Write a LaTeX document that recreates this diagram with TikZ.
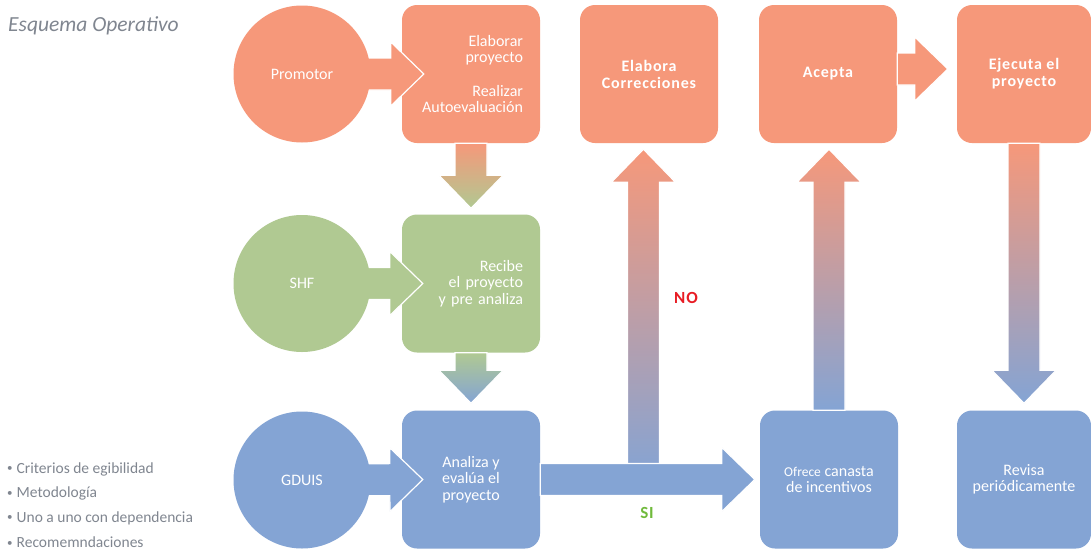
\documentclass[tikz,border=0pt]{standalone}
\usepackage{fontspec}
\setmainfont{Carlito}
\usetikzlibrary{calc}

\pgfdeclarelayer{front}
\pgfsetlayers{main,front}

\definecolor{promotorc}{RGB}{246,152,122}
\definecolor{shfc}{RGB}{176,201,146}
\definecolor{gduisc}{RGB}{132,164,212}
\definecolor{notec}{RGB}{128,134,144}
\definecolor{noc}{RGB}{232,28,36}
\definecolor{sic}{RGB}{112,186,60}

\newcommand{\spacedbf}{\bfseries\addfontfeature{LetterSpace=5}}

% block arrow from #2 to its tip #3
\newcommand{\blockarrow}[3][]{%
  \path[barrow,#1] let \p1=#2, \p2=#3, \p3=($(\p2)!33pt!(\p1)$) in
    ($(\p1)!16pt!90:(\p2)$) -- ($(\p3)!16pt!90:(\p2)$) -- ($(\p3)!32pt!90:(\p2)$)
    -- (\p2) -- ($(\p3)!32pt!-90:(\p2)$) -- ($(\p3)!16pt!-90:(\p2)$)
    -- ($(\p1)!16pt!-90:(\p2)$) -- cycle;}

\begin{document}
\begin{tikzpicture}[x=1pt,y=-1pt,
    every node/.style={font=\fontsize{16}{16.5}\selectfont, text=white},
    actor/.style={circle, minimum size=137pt, inner sep=0pt},
    stage/.style={rectangle, rounded corners=15pt, minimum width=138pt,
      minimum height=138pt, inner sep=0pt, align=center},
    headstage/.style={stage, font=\fontsize{16}{17}\selectfont\spacedbf},
    barrow/.style={draw=white, line width=1.2pt},
    note/.style={anchor=west, inner sep=0pt, text=notec, font=\fontsize{15.5}{18}\selectfont}]

    \useasboundingbox (0,0) rectangle (1091,552);
    \fill[white] (0,0) rectangle (1091,552);

    \node[anchor=base west, inner sep=0pt, text=notec, font=\fontsize{21.5}{24}\selectfont\itshape] (title) at (8,31) {Esquema Operativo};

    \begin{pgfonlayer}{front}
    \node[actor, fill=promotorc] (promotor) at (302,74) {Promotor};
    \node[actor, fill=shfc] (shf) at (302,283.5) {SHF};
    \node[actor, fill=gduisc] (gduis) at (302,480) {GDUIS};
    \end{pgfonlayer}

    \node[stage, fill=promotorc, text width=104pt, align=right] (elaborar) at (471,74) {Elaborar\\proyecto\\[17pt]Realizar\\Autoevaluación};
    \node[headstage, fill=promotorc] (correcciones) at (649,74) {Elabora\\Correcciones};
    \node[headstage, fill=promotorc] (acepta) at (828,74) {Acepta};
    \node[headstage, fill=promotorc, minimum width=134pt] (ejecuta) at (1024,74) {Ejecuta el\\proyecto};

    \node[stage, fill=shfc, text width=104pt, align=right] (recibe) at (471,283.5) {Recibe\\el proyecto\\y pre analiza};

    \node[stage, fill=gduisc] (analiza) at (471,479.5) {Analiza y\\evalúa el\\proyecto};
    \node[stage, fill=gduisc] (ofrece) at (829,479.5) {{\fontsize{13.5}{16.5}\selectfont Ofrece} canasta\\de incentivos};
    \node[stage, fill=gduisc, minimum width=134pt] (revisa) at (1024,479.5) {Revisa\\periódicamente};

    \blockarrow[fill=promotorc]{(promotor)}{($(elaborar.west)+(22,0)$)}
    \blockarrow[fill=shfc]{(shf)}{($(recibe.west)+(21,0)$)}
    \blockarrow[fill=gduisc]{(gduis)}{($(analiza.west)+(21,0)$)}

    \blockarrow[top color=promotorc, bottom color=shfc]{(elaborar.south)}{($(recibe.north)+(0,-6)$)}
    \blockarrow[top color=shfc, bottom color=gduisc]{(recibe.south)}{($(analiza.north)+(0,-7)$)}

    \coordinate (fork) at ($(analiza.east)!0.47!(ofrece.west)$);
    \blockarrow[top color=promotorc, bottom color=gduisc]{(fork)}{($(fork |- correcciones.south)+(0,6)$)}
    \blockarrow[fill=gduisc]{(analiza.east)}{($(ofrece.west)+(-5,0)$)}

    \blockarrow[top color=promotorc, bottom color=gduisc]{(ofrece.north)}{($(ofrece.north |- acepta.south)+(0,6)$)}
    \blockarrow[fill=promotorc]{($(acepta.east)+(0,-5)$)}{($(ejecuta.west)+(-9,-5)$)}
    \blockarrow[top color=promotorc, bottom color=gduisc]{(ejecuta.south)}{($(revisa.north)+(0,-7)$)}

    \node[text=noc, font=\fontsize{17}{17}\selectfont\spacedbf] (no) at (686,298) {NO};
    \node[text=sic, font=\fontsize{17}{17}\selectfont\spacedbf] (si) at (647,513) {SI};

    \foreach \txt [count=\i] in {Criterios de egibilidad, Metodología, Uno a uno con dependencia, Recomemndaciones}
        \node[note] (note\i) at (7,{469+24.5*(\i-1)}) {\raisebox{1.5pt}{\fontsize{11}{11}\selectfont•}\hspace{4pt}\txt};

\end{tikzpicture}
\end{document}
